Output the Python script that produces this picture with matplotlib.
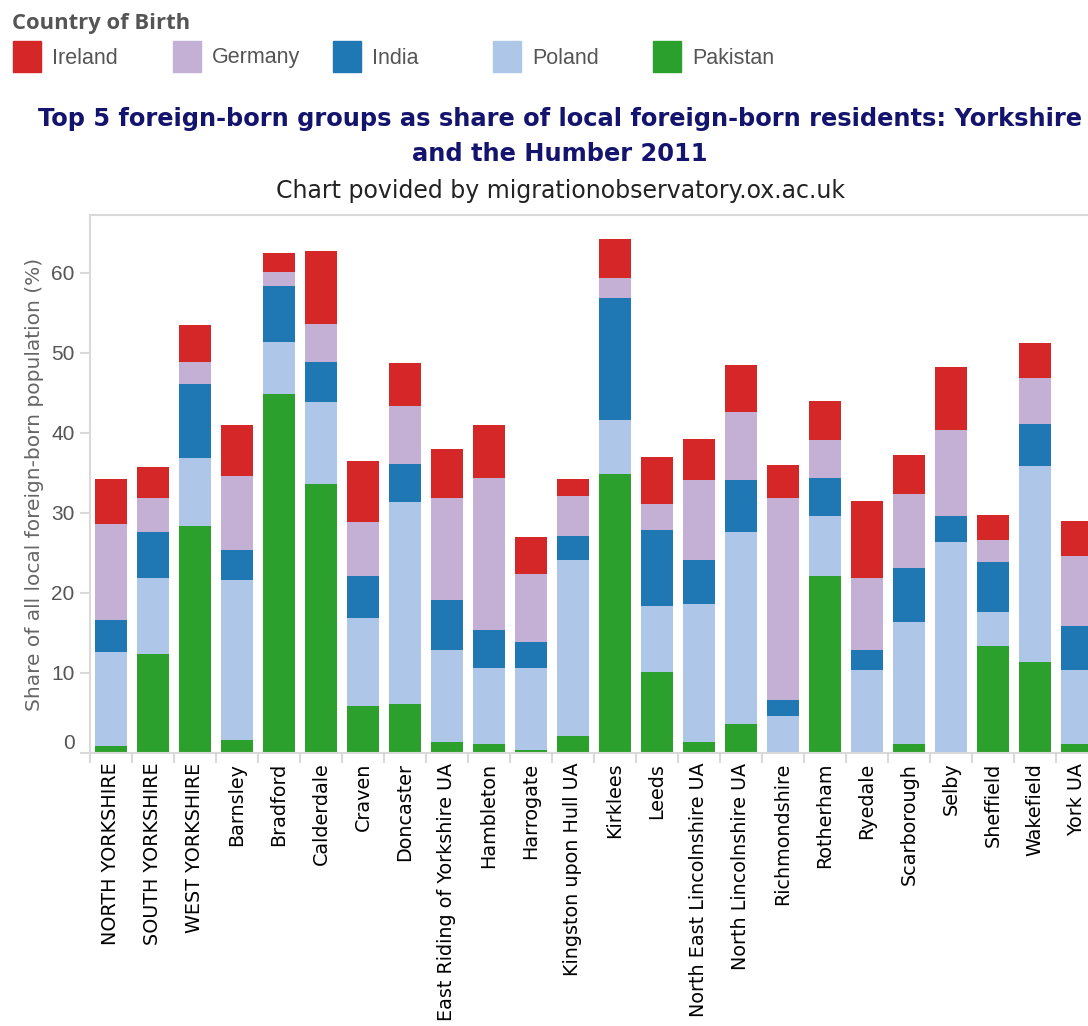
import numpy as np
import matplotlib
matplotlib.use("Agg")
import matplotlib.pyplot as plt
from matplotlib.patches import Rectangle

# %% Data (share of local foreign-born population, %)
areas = ["NORTH YORKSHIRE", "SOUTH YORKSHIRE", "WEST YORKSHIRE", "Barnsley", "Bradford",
         "Calderdale", "Craven", "Doncaster", "East Riding of Yorkshire UA", "Hambleton",
         "Harrogate", "Kingston upon Hull UA", "Kirklees", "Leeds", "North East Lincolnshire UA",
         "North Lincolnshire UA", "Richmondshire", "Rotherham", "Ryedale", "Scarborough",
         "Selby", "Sheffield", "Wakefield", "York UA"]

pakistan = [0.9, 12.4, 28.4, 1.6, 44.9, 33.6, 5.9, 6.1, 1.4, 1.1, 0.4, 2.1,
            34.9, 10.1, 1.4, 3.6, 0.15, 22.1, 0.15, 1.1, 0.15, 13.4, 11.4, 1.1]
poland = [11.75, 9.5, 8.5, 20.0, 6.5, 10.25, 11.0, 25.25, 11.5, 9.5, 10.25, 22.0,
          6.75, 8.25, 17.25, 24.0, 4.5, 7.5, 10.25, 15.25, 26.25, 4.25, 24.5, 9.25]
india = [4.0, 5.75, 9.25, 3.75, 7.0, 5.0, 5.25, 4.75, 6.25, 4.75, 3.25, 3.0,
         15.25, 9.5, 5.5, 6.5, 2.0, 4.75, 2.5, 6.75, 3.25, 6.25, 5.25, 5.5]
germany = [12.0, 4.25, 2.75, 9.25, 1.75, 4.75, 6.75, 7.25, 12.75, 19.0, 8.5, 5.0,
           2.5, 3.25, 10.0, 8.5, 25.25, 4.75, 9.0, 9.25, 10.75, 2.75, 5.75, 8.75]
ireland = [5.6, 3.9, 4.6, 6.4, 2.4, 9.1, 7.6, 5.4, 6.1, 6.6, 4.6, 2.1,
           4.9, 5.9, 5.1, 5.9, 4.1, 4.9, 9.6, 4.9, 7.9, 3.1, 4.4, 4.4]

# legend order (top of the stack first), stacking goes bottom-up from Pakistan
legend_names = ["Ireland", "Germany", "India", "Poland", "Pakistan"]
colors = {"Ireland": "#d62728", "Germany": "#c5b0d5", "India": "#1f77b4",
          "Poland": "#aec7e8", "Pakistan": "#2ca02c"}
stack_order = [("Pakistan", pakistan), ("Poland", poland), ("India", india),
               ("Germany", germany), ("Ireland", ireland)]

# %% Figure
W, H = 1088, 1026
fig = plt.figure(figsize=(W / 100, H / 100), dpi=100)
ax = fig.add_axes([90 / W, (H - 753) / H, 1008 / W, 538 / H])

x = np.arange(len(areas))
bottom = np.zeros(len(areas))
for name, vals in stack_order:
    vals = np.array(vals)
    ax.bar(x, vals, width=0.74, bottom=bottom, color=colors[name], linewidth=0, zorder=2)
    bottom += vals

ax.set_xlim(-0.5, len(areas) - 0.5)
ax.set_ylim(0, 67.25)

grey = "#d9d9d9"
for s in ["left", "bottom", "top"]:
    ax.spines[s].set_color(grey)
    ax.spines[s].set_linewidth(1.5)
ax.spines["right"].set_visible(False)

ax.set_yticks([0, 10, 20, 30, 40, 50, 60])
ax.tick_params(axis="y", length=7, width=1.5, color=grey, labelsize=15, labelcolor="#555555", pad=4)
ax.set_ylabel("Share of all local foreign-born population (%)", fontsize=14.5, color="#666666", labelpad=5)

ax.set_xticks(x)
ax.set_xticklabels(areas, rotation=90, fontsize=13.8, color="black", family="DejaVu Sans")
ax.tick_params(axis="x", length=0, pad=7)
ax.set_xticks(np.arange(len(areas) + 1) - 0.5, minor=True)
ax.tick_params(axis="x", which="minor", length=7, width=1.5, color=grey)

for lab in ax.get_yticklabels():
    lab.set_family("Liberation Sans")
    if lab.get_text() == "0":
        lab.set_verticalalignment("bottom")

# %% Titles
fig.text(560 / W, 1 - 107 / H,
         "Top 5 foreign-born groups as share of local foreign-born residents: Yorkshire\nand the Humber 2011",
         ha="center", va="top", fontsize=17.4, fontweight="bold", color="#14146e",
         family="DejaVu Sans", linespacing=1.6)
fig.text(560 / W, 1 - 191 / H, "Chart povided by migrationobservatory.ox.ac.uk",
         ha="center", va="center", fontsize=17, color="#222222", family="DejaVu Sans")

# %% Legend
fig.text(12 / W, 1 - 23 / H, "Country of Birth", ha="left", va="center",
         fontsize=15.8, fontweight="bold", color="#555555", family="Open Sans")
for i, name in enumerate(legend_names):
    x0 = 13 + i * 160
    fig.add_artist(Rectangle((x0 / W, 1 - 72 / H), 28 / W, 31 / H,
                             transform=fig.transFigure, color=colors[name]))
    fig.text((x0 + 39) / W, 1 - 58 / H, name, ha="left", va="center",
             fontsize=15.5, color="#555555", family="Liberation Sans")

plt.savefig("out.png", dpi=100)
